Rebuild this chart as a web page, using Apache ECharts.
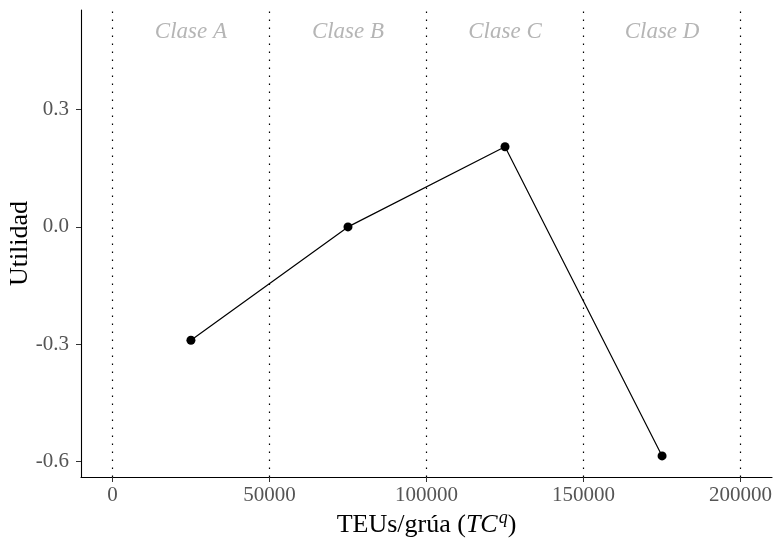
<!DOCTYPE html>
<html>
<head>
<meta charset="utf-8">
<script src="https://cdn.jsdelivr.net/npm/echarts@6/dist/echarts.min.js"></script>
<style>
  html, body { margin: 0; padding: 0; background: #fff; }
  #main { width: 774px; height: 540px; }
</style>
</head>
<body>
<div id="main"></div>
<script>
// datos
var teus = [25000, 75000, 125000, 175000];
var utilidad = [-0.29, 0.0, 0.205, -0.586];
var claseNombres = ['Clase A', 'Clase B', 'Clase C', 'Clase D'];
var claseX = [25000, 75000, 125000, 175000];
var claseY = 0.5;
var cortes = [0, 50000, 100000, 150000, 200000];
var xTicks = [0, 50000, 100000, 150000, 200000];
var yTicks = [-0.6, -0.3, 0.0, 0.3];

var serif = 'Liberation Serif';

var option = {
    animation: false,
    grid: { left: 81, right: 2, top: 10, bottom: 63, outerBoundsMode: 'none', containLabel: false },
    xAxis: {
        type: 'value',
        min: -10000,
        max: 210000,
        name: '{n|TEUs/grúa (}{i|TC}{s|q}{n|)}',
        nameLocation: 'middle',
        nameGap: 32,
        nameMoveOverlap: false,
        nameTextStyle: {
            rich: {
                n: { fontFamily: serif, fontSize: 26, color: '#000' },
                i: { fontFamily: serif, fontSize: 26, fontStyle: 'italic', color: '#000' },
                s: { fontFamily: serif, fontSize: 18, fontStyle: 'italic', color: '#000', verticalAlign: 'top', padding: [0, 0, 14, 1] }
            }
        },
        axisLine: { onZero: false, lineStyle: { color: '#000', width: 1.1 } },
        axisTick: { customValues: xTicks, length: 5, lineStyle: { color: '#333' } },
        axisLabel: {
            customValues: xTicks,
            fontFamily: serif, fontSize: 21, color: '#555', margin: 8,
            formatter: function (v) { return String(v); }
        },
        splitLine: { show: false }
    },
    yAxis: {
        type: 'value',
        min: -0.64,
        max: 0.555,
        name: 'Utilidad',
        nameLocation: 'middle',
        nameGap: 48,
        nameMoveOverlap: false,
        nameTextStyle: { fontFamily: serif, fontSize: 26, color: '#000' },
        axisLine: { show: true, onZero: false, lineStyle: { color: '#000', width: 1.1 } },
        axisTick: { show: true, customValues: yTicks, length: 5, lineStyle: { color: '#333' } },
        axisLabel: {
            customValues: yTicks,
            fontFamily: serif, fontSize: 21, color: '#555', margin: 12,
            formatter: function (v) { return v.toFixed(1); }
        },
        splitLine: { show: false }
    },
    series: [
        {
            type: 'line',
            data: teus.map(function (x, i) { return [x, utilidad[i]]; }),
            symbol: 'circle',
            symbolSize: 9,
            itemStyle: { color: '#000' },
            lineStyle: { color: '#000', width: 1.2 },
            markLine: {
                silent: true,
                symbol: 'none',
                label: { show: false },
                lineStyle: { color: '#000', width: 1.2, type: [1.5, 6.5] },
                data: cortes.map(function (c) { return { xAxis: c }; })
            },
            z: 3
        },
        {
            type: 'scatter',
            data: claseX.map(function (x, i) { return [x, claseY, claseNombres[i]]; }),
            symbolSize: 0,
            silent: true,
            label: {
                show: true,
                position: 'inside',
                formatter: function (p) { return p.data[2]; },
                fontFamily: serif, fontSize: 23, fontStyle: 'italic', color: '#a3a3a3'
            }
        }
    ]
};

var chart = echarts.init(document.getElementById('main'));
chart.setOption(option);
</script>
</body>
</html>
